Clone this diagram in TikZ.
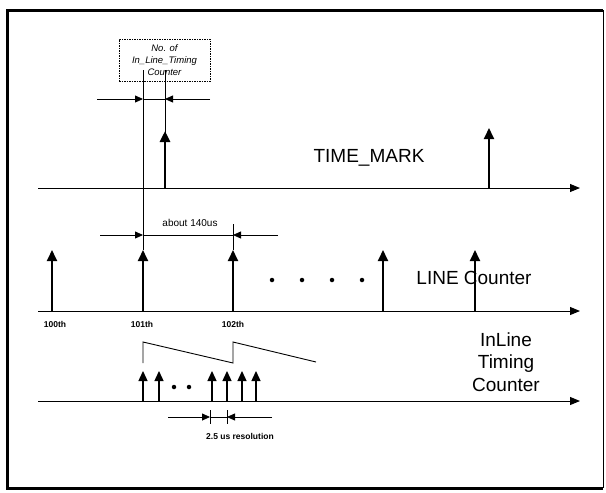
\documentclass[tikz,border=0pt]{standalone}
\usepackage{fontspec}
\setmainfont{Liberation Sans}
\usetikzlibrary{arrows.meta}
\begin{document}
\begin{tikzpicture}[x=1pt,y=-1pt,
  axis/.style={line width=1pt,-{Triangle[length=10pt,width=8pt]}},
  pulse/.style={line width=1.8pt,-{Triangle[length=11pt,width=10pt]}},
  boldpulse/.style={line width=2.8pt,-{Triangle[length=11pt,width=10pt]}},
  minipulse/.style={line width=1.4pt,-{Triangle[length=10pt,width=9pt]}},
  dimarr/.style={line width=0.8pt,-{Triangle[length=8pt,width=7pt]}},
  guide/.style={line width=0.9pt},
  biglabel/.style={font=\fontsize{19}{22.5}\selectfont, inner sep=0pt},
  smalllabel/.style={font=\fontsize{10}{12}\selectfont, inner sep=0pt},
  ticklabel/.style={font=\bfseries\fontsize{8.5}{10}\selectfont, inner sep=0pt},
  dot/.style={circle, fill=black, inner sep=0pt, minimum size=4.5pt},
]
\useasboundingbox (0,0) rectangle (606,493);
% frame
\draw[line width=3pt] (603,10) -- (7,10) -- (7,488) -- (603,488);
\draw[line width=0.8pt] (603,10) -- (603,488);

% callout box
\node[draw, line width=0.7pt, dash pattern=on 1.5pt off 1pt, minimum width=91pt, minimum height=42pt,
      align=center, inner sep=1pt, font=\itshape\fontsize{9.5}{12}\selectfont] (box) at (164.5,60)
      {No. of\\In\_Line\_Timing\\Counter};

% ---------- TIME_MARK row ----------
\coordinate (tmL) at (38,188);
\coordinate (tmR) at (580,188);
\draw[axis] (tmL) -- (tmR);
\coordinate (tm1b) at (165,188);
\coordinate (tm1t) at (165,131);
\coordinate (tm2b) at (489,188);
\coordinate (tm2t) at (489,128);
\draw[boldpulse] (tm1b) -- (tm1t);
\draw[pulse] (tm2b) -- (tm2t);
\node[biglabel] (tmtext) at (369,158) {TIME\_MARK};

% guide lines from box
\coordinate (gA) at (143,70);
\coordinate (gB) at (165,70);
\coordinate (gBlow) at (165,140);
\coordinate (gAlow) at (143,250);
\draw[guide] (gA) -- (gAlow);
\draw[guide] (gB) -- (gBlow);

% dimension at y=99
\coordinate (d1a) at (97,99);
\coordinate (d1b) at (143,99);
\coordinate (d1c) at (165,99);
\coordinate (d1d) at (210,99);
\draw[dimarr] (d1a) -- (d1b);
\draw[dimarr] (d1d) -- (d1c);
\draw[guide, line width=0.8pt] (d1b) -- (d1c);

% ---------- LINE Counter row ----------
\coordinate (lcL) at (38,311);
\coordinate (lcR) at (580,311);
\draw[axis] (lcL) -- (lcR);
\foreach \x/\n in {52/p100,143/p101,233/p102,383/p103,475/p104}{
  \coordinate (\n b) at (\x,311);
  \coordinate (\n t) at (\x,250);
  \draw[pulse] (\n b) -- (\n t);
}
\coordinate (g102top) at (233,224);
\draw[guide] (g102top) -- (p102t);

% dimension about 140us
\coordinate (d2a) at (100,235);
\coordinate (d2b) at (143,235);
\coordinate (d2c) at (233,235);
\coordinate (d2d) at (278,235);
\draw[dimarr] (d2a) -- (d2b);
\draw[dimarr] (d2d) -- (d2c);
\draw[guide, line width=0.8pt] (d2b) -- (d2c);
\node[smalllabel] (about) at (190,223) {about 140us};

\foreach \x/\n in {272/e1,302/e2,332/e3,362/e4}{
  \node[dot] (\n) at (\x,280) {};
}
\node[biglabel] (lctext) at (474,278) {LINE Counter};
\node[ticklabel] (l100) at (55,324) {100th};
\node[ticklabel] (l101) at (142,324) {101th};
\node[ticklabel] (l102) at (233,324) {102th};

% ---------- InLine Timing Counter row ----------
\coordinate (itL) at (38,401);
\coordinate (itR) at (580,401);
\draw[axis] (itL) -- (itR);
\foreach \x/\n in {143/q1,159/q2,212/q3,227/q4,242/q5,256/q6}{
  \coordinate (\n b) at (\x,401);
  \coordinate (\n t) at (\x,371);
  \draw[minipulse] (\n b) -- (\n t);
}
\node[dot] (f1) at (174,387) {};
\node[dot] (f2) at (189,387) {};

% sawtooth
\coordinate (s0) at (143,363);
\coordinate (s1) at (143,342);
\coordinate (s2) at (233,363);
\coordinate (s3) at (233,342);
\coordinate (s4) at (316,362);
\draw[line width=0.9pt] (s0) -- (s1) -- (s2) -- (s3) -- (s4);

% resolution dimension
\coordinate (d3a) at (168,417);
\coordinate (d3b) at (210,417);
\coordinate (d3c) at (227,417);
\coordinate (d3d) at (272,417);
\draw[dimarr] (d3a) -- (d3b);
\draw[dimarr] (d3d) -- (d3c);
\draw[line width=0.8pt] (d3b) -- (d3c);
\coordinate (t1a) at (210,410);
\coordinate (t1b) at (210,424);
\coordinate (t2a) at (227,410);
\coordinate (t2b) at (227,424);
\draw[line width=0.8pt] (t1a) -- (t1b);
\draw[line width=0.8pt] (t2a) -- (t2b);
\node[ticklabel] (res) at (240,436) {2.5 us resolution};

\node[biglabel, align=center] (ittext) at (506,362) {InLine\\Timing\\Counter};
\end{tikzpicture}
\end{document}
